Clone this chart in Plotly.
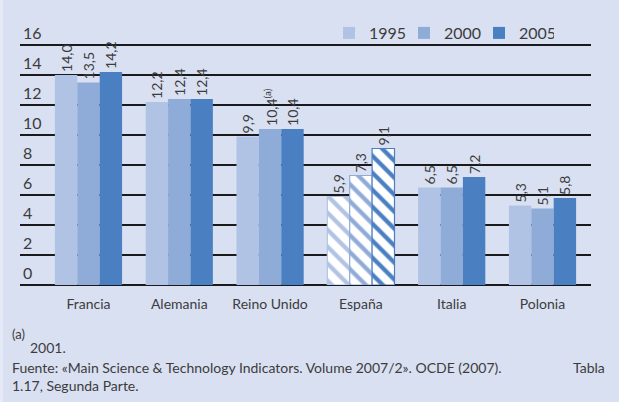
import plotly.graph_objects as go

# ---- data ----
paises = ["Francia", "Alemania", "Reino Unido", "España", "Italia", "Polonia"]
anios = ["1995", "2000", "2005"]
v1995 = [14.0, 12.2, 9.9, 5.9, 6.5, 5.3]
v2000 = [13.5, 12.4, 10.4, 7.3, 6.5, 5.1]
v2005 = [14.2, 12.4, 10.4, 9.1, 7.2, 5.8]
notas1995 = ["", "", "", "", "", ""]
notas2000 = ["", "", "(a)", "", "", ""]
notas2005 = ["", "", "", "", "", ""]
y_ticks = [0, 2, 4, 6, 8, 10, 12, 14, 16]
pais_rayado = "España"

colores = ["#b1c3e4", "#8fabd8", "#4a7fc1"]
fondo = "#d9e0f2"
texto = "#3c3c3c"
FONT = "Lato"

W, H = 619, 402
L, R, T, B = 20, 28, 41, 117
PW, PH = W - L - R, H - T - B
Y_MAX = 16 + 4 / 15


def px(x):
    return (x - L) / PW


def py(y):
    return (H - B - y) / PH


def etiqueta(v, nota):
    s = f"{v:.1f}".replace(".", ",")
    return s + (f"<sup>{nota}</sup>" if nota else "")


fig = go.Figure()
for anio, vals, notas, col in zip(anios, [v1995, v2000, v2005],
                                  [notas1995, notas2000, notas2005], colores):
    rayado = [p == pais_rayado for p in paises]
    fig.add_trace(go.Bar(
        name=anio, x=paises, y=vals,
        text=[etiqueta(v, n) for v, n in zip(vals, notas)],
        textposition="outside", textangle=-90, constraintext="none",
        textfont=dict(family=FONT, size=14, color=texto),
        cliponaxis=False,
        marker=dict(
            color=col,
            line=dict(color=col, width=[1.2 if r else 0 for r in rayado]),
            pattern=dict(
                shape=["\\" if r else "" for r in rayado],
                fgcolor=col,
                bgcolor=["white" if r else col for r in rayado],
                size=12, solidity=0.36, fillmode="replace",
            ),
        ),
    ))

fig.update_layout(
    width=W, height=H,
    margin=dict(l=L, r=R, t=T, b=B, pad=0, autoexpand=False),
    paper_bgcolor=fondo, plot_bgcolor=fondo,
    font=dict(family=FONT, color=texto),
    barmode="group", bargap=0.26, bargroupgap=0,
    showlegend=True,
    legend=dict(orientation="h", xref="container", yref="container",
                x=329 / W, xanchor="left", y=1 - 16 / H, yanchor="top",
                font=dict(family=FONT, size=16, color=texto),
                bgcolor="rgba(0,0,0,0)", traceorder="normal",
                itemwidth=30, entrywidth=30),
    xaxis=dict(range=[-0.754, 5.534], showgrid=False, zeroline=False,
               showline=False, ticks="", ticklabelstandoff=9,
               tickfont=dict(family=FONT, size=14, color=texto)),
    yaxis=dict(range=[0, Y_MAX], tickvals=y_ticks,
               ticktext=[str(t) for t in y_ticks],
               ticklabelposition="inside top", ticklabeloverflow="allow",
               showgrid=True, gridcolor="#1a1a1a", gridwidth=1.5,
               zeroline=True, zerolinecolor="#1a1a1a", zerolinewidth=1.5,
               showline=False, ticks="",
               tickfont=dict(family=FONT, size=16, color=texto)),
)

fig.add_shape(type="rect", xref="paper", yref="paper",
              x0=px(0), x1=px(3), y0=py(H), y1=py(0),
              fillcolor="#e6eaf6", line_width=0, layer="below")

notas_pie = [
    ("(a)", 10, 334, 13, "left"),
    ("2001.", 28, 347, 14, "left"),
    ("Fuente: «Main Science & Technology Indicators. Volume 2007/2». OCDE (2007).", 10, 367, 14, "left"),
    ("Tabla", 607, 367, 14, "right"),
    ("1.17, Segunda Parte.", 10, 385, 14, "left"),
]
for txt, x, y, s, anc in notas_pie:
    fig.add_annotation(text=txt, xref="paper", yref="paper",
                       x=px(x), y=py(y), xanchor=anc, yanchor="middle",
                       showarrow=False,
                       font=dict(family=FONT, size=s, color=texto))

fig.write_html(
    "out.html",
    config={"displayModeBar": False},
    post_script="document.body.style.margin='0';"
                "document.body.style.overflow='hidden';",
)
